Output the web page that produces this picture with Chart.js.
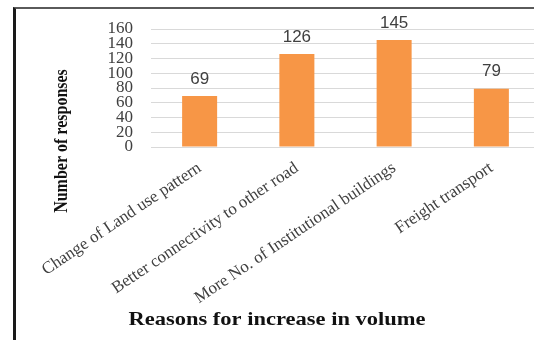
<!DOCTYPE html>
<html><head><meta charset="utf-8">
<script src="https://cdn.jsdelivr.net/npm/chart.js@4"></script>
<style>
html,body{margin:0;padding:0;overflow:hidden;background:#fff;width:534px;height:340px;}
#wrap{position:relative;width:540px;height:340px;}
#frame{position:absolute;left:13px;top:7px;right:0;bottom:-5px;border-top:2px solid #5a5a5a;border-left:3px solid #1a1a1a;pointer-events:none;}
canvas{position:absolute;left:0;top:0;}
</style></head><body>
<div id="wrap"><canvas id="c" width="540" height="340"></canvas><div id="frame"></div></div>
<script>
const categories = ["Change of Land use pattern", "Better connectivity to other road", "More No. of Institutional buildings", "Freight transport"];
const responses = [69, 126, 145, 79];
const yMin = 0, yMax = 160, yStep = 20;
const yTitle = "Number of responses";
const xTitle = "Reasons for increase in volume";

const valueLabels = {
  id: 'valueLabels',
  afterDatasetsDraw(chart) {
    const ctx = chart.ctx;
    const meta = chart.getDatasetMeta(0);
    ctx.save();
    ctx.font = '17px "Liberation Sans", Arial, sans-serif';
    ctx.fillStyle = '#404040';
    ctx.textAlign = 'center';
    ctx.textBaseline = 'middle';
    meta.data.forEach((bar, i) => {
      ctx.fillText(String(chart.data.datasets[0].data[i]), bar.x, bar.y - 17);
    });
    ctx.restore();
  }
};

const axisTitles = {
  id: 'axisTitles',
  afterDraw(chart) {
    const ctx = chart.ctx;
    const a = chart.chartArea;
    ctx.save();
    ctx.fillStyle = '#111';
    ctx.font = 'bold 16px "Liberation Serif", "Times New Roman", serif';
    ctx.textAlign = 'center';
    ctx.textBaseline = 'middle';
    ctx.translate(a.left - 89, 141);
    ctx.rotate(-Math.PI / 2);
    ctx.scale(1, 1.15);
    ctx.fillText(yTitle, 0, 0);
    ctx.restore();
    ctx.save();
    ctx.fillStyle = '#111';
    ctx.font = 'bold 18px "Liberation Serif", "Times New Roman", serif';
    ctx.textAlign = 'center';
    ctx.textBaseline = 'middle';
    ctx.translate(277, 320);
    ctx.scale(1.25, 1);
    ctx.fillText(xTitle, 0, 0);
    ctx.restore();
  }
};

new Chart(document.getElementById('c'), {
  type: 'bar',
  data: {
    labels: categories,
    datasets: [{
      data: responses,
      backgroundColor: '#F79646',
      borderWidth: 0,
      barPercentage: 0.36,
      categoryPercentage: 1
    }]
  },
  options: {
    responsive: false,
    animation: false,
    layout: { padding: { left: 100, top: 29, right: 0, bottom: 0 } },
    plugins: { legend: { display: false }, tooltip: { enabled: false }, title: { display: false } },
    scales: {
      x: {
        grid: { display: false, drawTicks: false },
        border: { display: false },
        ticks: {
          autoSkip: false,
          minRotation: 34, maxRotation: 34,
          padding: 11,
          color: '#404040',
          font: { family: '"Liberation Serif", "Times New Roman", serif', size: 17 }
        },
        afterFit(scale) { scale.height = 193; }
      },
      y: {
        min: yMin, max: yMax,
        grid: { color: '#d9d9d9', lineWidth: 1, drawTicks: false },
        border: { display: false },
        ticks: {
          stepSize: yStep,
          autoSkip: false,
          padding: 18,
          color: '#404040',
          font: { family: '"Liberation Serif", "Times New Roman", serif', size: 17 }
        },
        afterFit(scale) { scale.width = 51; }
      }
    }
  },
  plugins: [valueLabels, axisTitles]
});
</script>
</body></html>
